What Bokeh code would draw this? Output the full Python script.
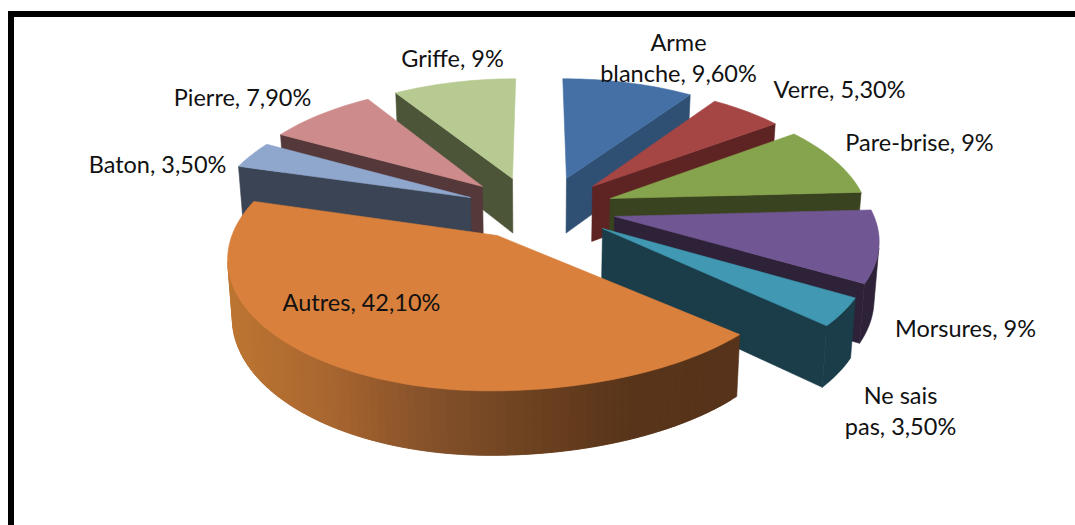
import math
from bokeh.plotting import figure, ColumnDataSource
from bokeh.embed import file_html
from bokeh.resources import INLINE
from bokeh.core.properties import value

categories = ["Arme blanche", "Verre", "Pare-brise", "Morsures", "Ne sais pas", "Autres", "Baton", "Pierre", "Griffe"]
values = [9.6, 5.3, 9, 9, 3.5, 42.1, 3.5, 7.9, 9]
top_colors = ["#4470A6", "#A64644", "#86A44D", "#705692", "#4098B2", "#D9803C", "#8FA6CD", "#CD8C8B", "#B7CA92"]
side_colors = ["#2F4F73", "#5E2423", "#3A431F", "#2E2239", "#1A3D49", "#56331A", "#3A4454", "#55383A", "#4D5539"]
explode_x = [0.117, 0.22, 0.286, 0.297, 0.247, -0.151, -0.264, -0.22, -0.101]
explode_y = [0.253, 0.184, 0.082, -0.064, -0.159, -0.213, 0.09, 0.184, 0.253]
draw_order = ["Griffe", "Pierre", "Baton", "Arme blanche", "Verre", "Pare-brise", "Morsures", "Ne sais pas", "Autres"]
label_breaks = {"Arme blanche": "Arme\nblanche", "Ne sais pas": "Ne sais\npas"}
label_centres = {"Arme blanche": (678, 57), "Verre": (839, 88), "Pare-brise": (919, 141),
                 "Morsures": (965, 327), "Ne sais pas": (900, 410), "Autres": (361, 301),
                 "Baton": (157, 163), "Pierre": (242, 96), "Griffe": (452, 57)}
autres_shade = ["#BC7532", "#A8652F", "#84512A", "#6D4220", "#58341A", "#56331A"]

W, H = 1075, 525
CX, CY, RX, RY, K = 537, 208, 257, 123, 0.15
DEPTH, BOTTOM_SCALE = 56, 0.985
AUTRES_RIGHT_STRETCH = 1.13
MIN_WALL_AREA = 400


def project(X, Y, bottom=False):
    s = 1 / (1 + K * Y)
    if bottom:
        return (CX + RX * X * s * BOTTOM_SCALE, CY - RY * Y * s + DEPTH * s ** 0.7)
    return (CX + RX * X * s, CY - RY * Y * s)


def to_data(pt):
    return pt[0], H - pt[1]


def mix(c1, c2, t):
    a = [int(c1[i:i + 2], 16) for i in (1, 3, 5)]
    b = [int(c2[i:i + 2], 16) for i in (1, 3, 5)]
    return "#%02x%02x%02x" % tuple(round(a[i] + (b[i] - a[i]) * t) for i in range(3))


def shade(t):
    t = min(max(t, 0), 0.9999) * (len(autres_shade) - 1)
    i = int(t)
    return mix(autres_shade[i], autres_shade[i + 1], t - i)


total = sum(values)
xs, ys, cols = [], [], []


def add(poly, col):
    pts = [to_data(p) for p in poly]
    xs.append([p[0] for p in pts])
    ys.append([p[1] for p in pts])
    cols.append(col)


def signed_area(poly):
    pts = [to_data(p) for p in poly]
    return sum(pts[i][0] * pts[(i + 1) % len(pts)][1] - pts[(i + 1) % len(pts)][0] * pts[i][1] for i in range(len(pts))) / 2


spans = {}
acc = 0
for c, v in zip(categories, values):
    spans[c] = (acc / total * 2 * math.pi, (acc + v) / total * 2 * math.pi)
    acc += v

for name in draw_order:
    i = categories.index(name)
    a0, a1 = spans[name]
    ox, oy = explode_x[i], explode_y[i]
    n = max(6, int((a1 - a0) / math.radians(1.5)))
    rim = []
    for k in range(n + 1):
        a = a0 + (a1 - a0) * k / n
        dx, dy = math.sin(a), math.cos(a)
        if name == "Autres" and dx > 0:
            dx *= AUTRES_RIGHT_STRETCH
        rim.append((ox + dx, oy + dy))
    apex = (ox, oy)
    # radial walls
    for a_pt, b_pt in ((apex, rim[0]), (rim[-1], apex)):
        quad = [project(*a_pt), project(*b_pt), project(*b_pt, bottom=True), project(*a_pt, bottom=True)]
        if signed_area(quad) > MIN_WALL_AREA:
            add(quad, side_colors[i])
    # outer wall
    visible = []
    for k in range(n):
        quad = [project(*rim[k]), project(*rim[k + 1]), project(*rim[k + 1], bottom=True), project(*rim[k], bottom=True)]
        if signed_area(quad) > 0:
            visible.append(k)
    if visible:
        if name == "Autres":
            for k in visible:
                e = min(k + 2, n)
                quad = [project(*rim[k]), project(*rim[e]), project(*rim[e], bottom=True), project(*rim[k], bottom=True)]
                add(quad, shade((quad[0][0] - 232) / (735 - 232)))
        else:
            k0, k1 = visible[0], visible[-1] + 1
            path = [project(*rim[k]) for k in range(k0, k1 + 1)]
            path += [project(*rim[k], bottom=True) for k in range(k1, k0 - 1, -1)]
            add(path, side_colors[i])
    add([project(*apex)] + [project(*q) for q in rim], top_colors[i])

p = figure(width=W, height=H, x_range=(0, W), y_range=(0, H), toolbar_location=None,
           output_backend="svg", min_border=0, outline_line_color=None)
p.axis.visible = False
p.grid.visible = False

# black picture frame
p.quad(left=8, right=W, top=H - 11, bottom=H - 16, color="black")
p.quad(left=8, right=13, top=H - 11, bottom=0, color="black")

p.patches("x", "y", source=ColumnDataSource(dict(x=xs, y=ys, c=cols)), fill_color="c", line_color="c", line_width=0.6)

lab_x, lab_y, lab_t = [], [], []
for c, v in zip(categories, values):
    num = f"{v:g}%" if float(v).is_integer() else f"{v:.2f}".replace(".", ",") + "%"
    lab_t.append(f"{label_breaks.get(c, c)}, {num}")
    x, y = to_data(label_centres[c])
    lab_x.append(x)
    lab_y.append(y)
p.text(lab_x, lab_y, text=lab_t, text_font=value("Lato"), text_font_size="23.5px", text_color="#111111",
       text_align="center", text_baseline="middle", text_line_height=1.1)

open("out.html", "w").write(file_html(p, INLINE))
